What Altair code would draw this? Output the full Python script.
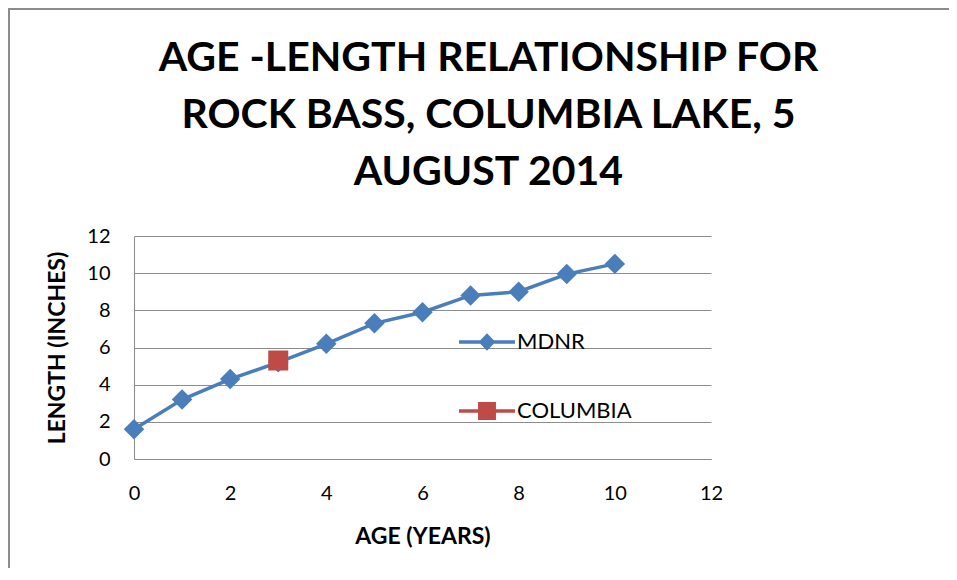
import altair as alt
import pandas as pd

# ---- data ----
mdnr_age = [0, 1, 2, 3, 4, 5, 6, 7, 8, 9, 10]
mdnr_length = [1.6, 3.2, 4.3, 5.2, 6.2, 7.3, 7.9, 8.8, 9.0, 9.95, 10.5]
columbia_age = [3]
columbia_length = [5.3]
series_names = ["MDNR", "COLUMBIA"]
axis_ticks = [0, 2, 4, 6, 8, 10, 12]
title_lines = ["AGE -LENGTH RELATIONSHIP FOR", "ROCK BASS, COLUMBIA LAKE, 5", "AUGUST 2014"]

BLUE = "#4A7EBB"
RED = "#BE4B48"
GRID = "#8C8C8C"
FONT = "Lato"

df = pd.DataFrame({
    "age": mdnr_age + columbia_age,
    "length": mdnr_length + columbia_length,
    "series": ["MDNR"] * len(mdnr_age) + ["COLUMBIA"] * len(columbia_age),
})

x_enc = alt.X("age:Q", scale=alt.Scale(domain=[0, 12], nice=False, zero=True),
              axis=alt.Axis(values=axis_ticks, title="AGE (YEARS)", grid=False,
                            ticks=False, labelPadding=24, titlePadding=22,
                            labelFlush=False, domainColor=GRID, labelAngle=0))
y_enc = alt.Y("length:Q", scale=alt.Scale(domain=[0, 12], nice=False, zero=True),
              axis=alt.Axis(values=axis_ticks, title="LENGTH (INCHES)", grid=True,
                            gridColor=GRID, ticks=False, labelPadding=24,
                            labelFlush=False, titlePadding=17, domainColor=GRID))

base = alt.Chart(df)

line = base.transform_filter(alt.datum.series == "MDNR").mark_line(
    color=BLUE, strokeWidth=3.5).encode(x=x_enc, y=y_enc)

mdnr_pts = base.transform_filter(alt.datum.series == "MDNR").mark_point(
    shape="diamond", filled=True, size=420, color=BLUE, opacity=1).encode(x=x_enc, y=y_enc)

col_pts = base.transform_filter(alt.datum.series == "COLUMBIA").mark_point(
    shape="square", filled=True, size=400, color=RED, opacity=1).encode(x=x_enc, y=y_enc)

LEG_DIAMOND = "M-1,-0.06L1,-0.06L1,0.06L-1,0.06Z M0,-0.31L0.3,0L0,0.31L-0.3,0Z"
LEG_SQUARE = "M-1,-0.06L1,-0.06L1,0.06L-1,0.06Z M-0.32,-0.32L0.32,-0.32L0.32,0.32L-0.32,0.32Z"

leg = alt.Legend(title=None, orient="none", legendX=325, legendY=78,
                 labelFont=FONT, labelFontSize=22, labelColor="#000000",
                 rowPadding=30, labelOffset=2, symbolOpacity=1,
                 symbolSize=3136, symbolStrokeWidth=0)

legend_layer = base.mark_point(filled=True, opacity=0, size=3136).encode(
    x=x_enc, y=y_enc,
    color=alt.Color("series:N", scale=alt.Scale(domain=series_names, range=[BLUE, RED]), legend=leg),
    shape=alt.Shape("series:N", scale=alt.Scale(domain=series_names, range=[LEG_DIAMOND, LEG_SQUARE]), legend=leg),
)

frame_df = pd.DataFrame({"k": [0]})
frame_left = alt.Chart(frame_df).mark_rule(color="#8C8C8C", strokeWidth=2).encode(
    x=alt.value(-125), y=alt.value(-228), y2=alt.value(336))
frame_top = alt.Chart(frame_df).mark_rule(color="#8C8C8C", strokeWidth=2).encode(
    x=alt.value(-126), x2=alt.value(815), y=alt.value(-227))

chart = alt.layer(frame_left, frame_top, line, mdnr_pts, col_pts, legend_layer).properties(
    width=577, height=223,
    padding={"left": 126, "top": 228, "right": 238, "bottom": 109},
    autosize=alt.AutoSizeParams(type="none"),
    title=alt.TitleParams(text=title_lines, font=FONT, fontSize=41, fontWeight="bold",
                          color="#000000", lineHeight=57, anchor="middle", frame="group",
                          dx=66, offset=-228, baseline="bottom"),
).configure_axis(
    labelFont=FONT, labelFontSize=20, labelColor="#000000",
    titleFont=FONT, titleFontSize=23, titleFontWeight="bold", titleColor="#000000",
).configure_view(stroke=None)

chart.save("out.html", embed_options={"renderer": "svg", "actions": False})
